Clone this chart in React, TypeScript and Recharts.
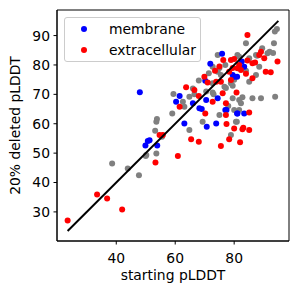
import { ReferenceArea, Scatter, ScatterChart, XAxis, YAxis } from 'recharts';

type Pt = { x: number; y: number };

// values
const other: Pt[] = [
  { x: 38.6, y: 46.5 }, { x: 43.9, y: 44.8 }, { x: 47.7, y: 42.5 }, { x: 50.0, y: 49.0 },
  { x: 50.2, y: 49.4 }, { x: 53.6, y: 49.9 }, { x: 55.5, y: 55.6 }, { x: 53.2, y: 57.6 },
  { x: 53.6, y: 60.7 }, { x: 53.8, y: 61.6 }, { x: 59.0, y: 63.5 }, { x: 59.4, y: 70.1 },
  { x: 62.6, y: 67.5 }, { x: 63.1, y: 65.8 }, { x: 64.8, y: 69.2 }, { x: 64.8, y: 57.9 },
  { x: 66.0, y: 72.0 }, { x: 68.0, y: 74.7 }, { x: 69.3, y: 60.7 }, { x: 70.5, y: 71.0 },
  { x: 72.7, y: 70.6 }, { x: 72.7, y: 73.8 }, { x: 72.7, y: 79.4 }, { x: 71.4, y: 77.2 },
  { x: 74.4, y: 77.7 }, { x: 75.5, y: 76.6 }, { x: 74.4, y: 83.4 }, { x: 75.0, y: 63.0 },
  { x: 76.7, y: 72.6 }, { x: 77.2, y: 72.2 }, { x: 78.9, y: 73.8 }, { x: 78.9, y: 56.2 },
  { x: 79.5, y: 68.7 }, { x: 79.5, y: 72.9 }, { x: 80.0, y: 64.7 }, { x: 81.7, y: 64.7 },
  { x: 80.6, y: 60.7 }, { x: 80.9, y: 60.7 }, { x: 81.7, y: 68.1 }, { x: 82.3, y: 67.0 },
  { x: 82.8, y: 69.0 }, { x: 81.7, y: 82.8 }, { x: 81.1, y: 83.4 }, { x: 84.0, y: 87.4 },
  { x: 85.1, y: 82.3 }, { x: 85.1, y: 74.3 }, { x: 86.2, y: 68.7 }, { x: 87.4, y: 76.6 },
  { x: 87.4, y: 83.4 }, { x: 87.8, y: 83.1 }, { x: 88.5, y: 79.4 }, { x: 89.1, y: 68.7 },
  { x: 89.5, y: 85.7 }, { x: 91.3, y: 84.0 }, { x: 92.0, y: 84.5 }, { x: 93.2, y: 84.1 },
  { x: 93.5, y: 87.4 }, { x: 93.9, y: 69.2 }, { x: 94.5, y: 92.2 }, { x: 93.8, y: 91.4 },
  { x: 83.0, y: 79.0 }, { x: 84.0, y: 78.0 }, { x: 75.0, y: 79.0 }, { x: 77.0, y: 80.0 },
  { x: 73.0, y: 70.0 }, { x: 66.5, y: 70.0 }, { x: 78.0, y: 66.0 }, { x: 80.0, y: 75.0 },
];

const membrane: Pt[] = [
  { x: 48.0, y: 70.7 }, { x: 49.9, y: 52.6 }, { x: 50.7, y: 54.1 }, { x: 53.9, y: 52.6 },
  { x: 51.3, y: 54.4 }, { x: 60.3, y: 67.5 }, { x: 61.5, y: 69.4 }, { x: 63.1, y: 60.1 },
  { x: 66.0, y: 67.0 }, { x: 68.2, y: 65.3 }, { x: 69.0, y: 65.0 }, { x: 70.2, y: 74.6 },
  { x: 70.5, y: 68.1 }, { x: 70.7, y: 59.0 }, { x: 71.9, y: 80.4 }, { x: 73.9, y: 60.1 },
  { x: 74.4, y: 68.7 }, { x: 75.9, y: 83.8 }, { x: 77.0, y: 64.7 }, { x: 77.4, y: 64.7 },
  { x: 79.5, y: 76.6 }, { x: 80.0, y: 76.0 }, { x: 81.0, y: 76.0 }, { x: 81.0, y: 63.5 },
  { x: 81.1, y: 63.5 }, { x: 82.6, y: 81.2 }, { x: 83.4, y: 79.4 }, { x: 83.4, y: 63.5 },
];

const extracellular: Pt[] = [
  { x: 23.5, y: 27.1 }, { x: 33.5, y: 35.9 }, { x: 36.9, y: 34.6 }, { x: 42.0, y: 30.8 },
  { x: 53.3, y: 46.8 }, { x: 54.7, y: 56.2 }, { x: 55.8, y: 56.2 }, { x: 60.9, y: 49.0 },
  { x: 61.5, y: 65.8 }, { x: 63.7, y: 72.4 }, { x: 65.4, y: 54.7 }, { x: 66.5, y: 71.5 },
  { x: 68.0, y: 69.4 }, { x: 68.0, y: 53.9 }, { x: 69.9, y: 76.0 }, { x: 70.2, y: 63.5 },
  { x: 72.7, y: 67.5 }, { x: 73.9, y: 74.3 }, { x: 75.5, y: 52.4 }, { x: 76.1, y: 70.4 },
  { x: 76.3, y: 81.7 }, { x: 77.2, y: 63.0 }, { x: 77.2, y: 67.0 }, { x: 77.4, y: 59.9 },
  { x: 78.3, y: 77.7 }, { x: 78.3, y: 54.7 }, { x: 78.9, y: 74.9 }, { x: 78.9, y: 81.7 },
  { x: 80.0, y: 58.4 }, { x: 80.8, y: 70.6 }, { x: 81.1, y: 78.9 }, { x: 81.7, y: 80.0 },
  { x: 82.0, y: 53.7 }, { x: 82.8, y: 58.1 }, { x: 83.1, y: 58.6 }, { x: 84.5, y: 90.2 },
  { x: 85.1, y: 63.8 }, { x: 85.1, y: 57.9 }, { x: 86.2, y: 75.5 }, { x: 86.2, y: 80.6 },
  { x: 87.1, y: 80.8 }, { x: 88.5, y: 83.4 }, { x: 89.1, y: 84.5 }, { x: 90.2, y: 82.3 },
  { x: 90.7, y: 77.7 }, { x: 92.4, y: 77.5 }, { x: 94.7, y: 81.2 }, { x: 75.0, y: 79.5 },
  { x: 79.5, y: 79.0 }, { x: 82.3, y: 78.3 }, { x: 84.5, y: 81.5 }, { x: 73.5, y: 78.0 },
  { x: 71.0, y: 74.0 }, { x: 84.0, y: 77.0 }, { x: 80.0, y: 82.0 }, { x: 75.5, y: 74.3 },
];

const diagonal: Pt[] = [{ x: 23.5, y: 23.5 }, { x: 95, y: 95 }];

const xTicks = [40, 60, 80];
const yTicks = [30, 40, 50, 60, 70, 80, 90];
const xDomain: [number, number] = [19.9, 98.6];
const yDomain: [number, number] = [20.1, 98.7];

const legendItems = [
  { label: 'membrane', color: '#0000ff' },
  { label: 'extracellular', color: '#ff0000' },
];

const FONT = 13.9;
const tick = { fontSize: FONT, fill: '#000' };

const dot = (color: string) => (props: any) => (
  <circle cx={props.cx} cy={props.cy} r={3} fill={color} />
);

// matplotlib-style legend box, laid over the chart's upper left corner
function LegendBox() {
  return (
    <div
      style={{
        position: 'absolute',
        left: 64,
        top: 17,
        width: 135,
        height: 43,
        border: '1px solid #cccccc',
        borderRadius: 3,
        background: 'rgba(255,255,255,0.8)',
        fontSize: FONT,
        color: '#000',
      }}
    >
      {legendItems.map((item, i) => (
        <div key={item.label} style={{ position: 'absolute', left: 0, top: 2 + i * 21, height: 18 }}>
          <span
            style={{
              position: 'absolute',
              left: 15.5,
              top: 6,
              width: 6,
              height: 6,
              borderRadius: 3,
              background: item.color,
            }}
          />
          <span style={{ position: 'absolute', left: 44, top: 0, whiteSpace: 'nowrap', lineHeight: '18px' }}>
            {item.label}
          </span>
        </div>
      ))}
    </div>
  );
}

export default function App() {
  return (
    <div
      style={{
        position: 'absolute',
        left: 0,
        top: 0,
        width: 299,
        height: 294,
        fontFamily: 'DejaVu Sans',
        background: '#fff',
      }}
    >
      <ScatterChart width={299} height={294} margin={{ top: 10, right: 10, bottom: 0, left: 0 }}>
        <XAxis
          type="number"
          dataKey="x"
          domain={xDomain}
          ticks={xTicks}
          allowDataOverflow
          height={53}
          tickSize={3.5}
          tickMargin={8.5}
          stroke="#000"
          tick={tick}
          label={{ value: 'starting pLDDT', position: 'insideBottom', offset: 14.5, fontSize: FONT, fill: '#000' }}
        />
        <YAxis
          type="number"
          dataKey="y"
          domain={yDomain}
          ticks={yTicks}
          allowDataOverflow
          width={57}
          tickSize={3.5}
          tickMargin={3.5}
          stroke="#000"
          tick={tick}
          label={{
            value: '20% deleted pLDDT',
            angle: -90,
            position: 'insideLeft',
            offset: 15,
            fontSize: FONT,
            fill: '#000',
            style: { textAnchor: 'middle' },
          }}
        />
        <ReferenceArea
          x1={xDomain[0]}
          x2={xDomain[1]}
          y1={yDomain[0]}
          y2={yDomain[1]}
          fill="none"
          stroke="#000"
          strokeWidth={1}
        />
        <Scatter data={other} shape={dot('#808080')} isAnimationActive={false} />
        <Scatter data={membrane} shape={dot('#0000ff')} isAnimationActive={false} />
        <Scatter data={extracellular} shape={dot('#ff0000')} isAnimationActive={false} />
        <Scatter
          data={diagonal}
          line={{ stroke: '#000', strokeWidth: 2 }}
          shape={() => <g />}
          isAnimationActive={false}
        />
      </ScatterChart>
      <LegendBox />
    </div>
  );
}
